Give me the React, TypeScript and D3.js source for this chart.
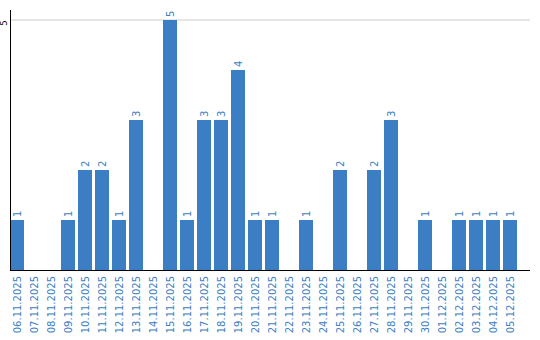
import React from "react";
import * as d3 from "d3";

const categories = [
  "06.11.2025", "07.11.2025", "08.11.2025", "09.11.2025", "10.11.2025",
  "11.11.2025", "12.11.2025", "13.11.2025", "14.11.2025", "15.11.2025",
  "16.11.2025", "17.11.2025", "18.11.2025", "19.11.2025", "20.11.2025",
  "21.11.2025", "22.11.2025", "23.11.2025", "24.11.2025", "25.11.2025",
  "26.11.2025", "27.11.2025", "28.11.2025", "29.11.2025", "30.11.2025",
  "01.12.2025", "02.12.2025", "03.12.2025", "04.12.2025", "05.12.2025",
];
const values = [
  1, 0, 0, 1, 2, 2, 1, 3, 0, 5,
  1, 3, 3, 4, 1, 1, 0, 1, 0, 2,
  0, 2, 3, 0, 1, 0, 1, 1, 1, 1,
];
const yTicks = [5];

const W = 540;
const H = 340;
const left = 10;
const right = 530;
const top = 20;
const bottom = 270;
const barColor = "#3b7ec4";
const font = "DejaVu Sans, Verdana, sans-serif";

export default function App() {
  const x = d3
    .scaleBand<string>()
    .domain(categories)
    .range([left, left + categories.length * 17])
    .paddingInner(3 / 17)
    .paddingOuter(3 / 34)
    .align(0);
  const y = d3.scaleLinear().domain([0, 5]).range([bottom, top]);

  return (
    <svg
      width={W}
      height={H}
      style={{ position: "absolute", left: 0, top: 0, background: "#fff" }}
    >
      {yTicks.map((t) => (
        <g key={t}>
          <line x1={left} x2={right} y1={y(t)} y2={y(t)} stroke="#cccccc" strokeWidth={1} />
          <text
            transform={`translate(4.5,${y(t) + 3}) rotate(-90)`}
            textAnchor="middle"
            dy="0.35em"
            fontSize={8}
            fontFamily={font}
            fill="#000"
          >
            {t}
          </text>
        </g>
      ))}
      {categories.map((c, i) => {
        const v = values[i];
        const bx = x(c)!;
        const bw = x.bandwidth();
        const cx = bx + bw / 2;
        return (
          <g key={c}>
            {v > 0 && (
              <>
                <rect x={bx} y={y(v)} width={bw} height={y(0) - y(v)} fill={barColor} />
                <text
                  transform={`translate(${cx},${y(v) - 3}) rotate(-90)`}
                  textAnchor="start"
                  dy="0.35em"
                  fontSize={10}
                  fontFamily={font}
                  fill={barColor}
                >
                  {v}
                </text>
              </>
            )}
            <text
              transform={`translate(${cx},276) rotate(-90)`}
              textAnchor="end"
              dy="0.35em"
              fontSize={10}
              fontFamily={font}
              fill={barColor}
            >
              {c}
            </text>
          </g>
        );
      })}
      <line x1={left + 0.5} x2={left + 0.5} y1={10} y2={bottom} stroke="#000" strokeWidth={1} />
      <line x1={left} x2={right} y1={bottom + 0.5} y2={bottom + 0.5} stroke="#000" strokeWidth={1} />
    </svg>
  );
}
